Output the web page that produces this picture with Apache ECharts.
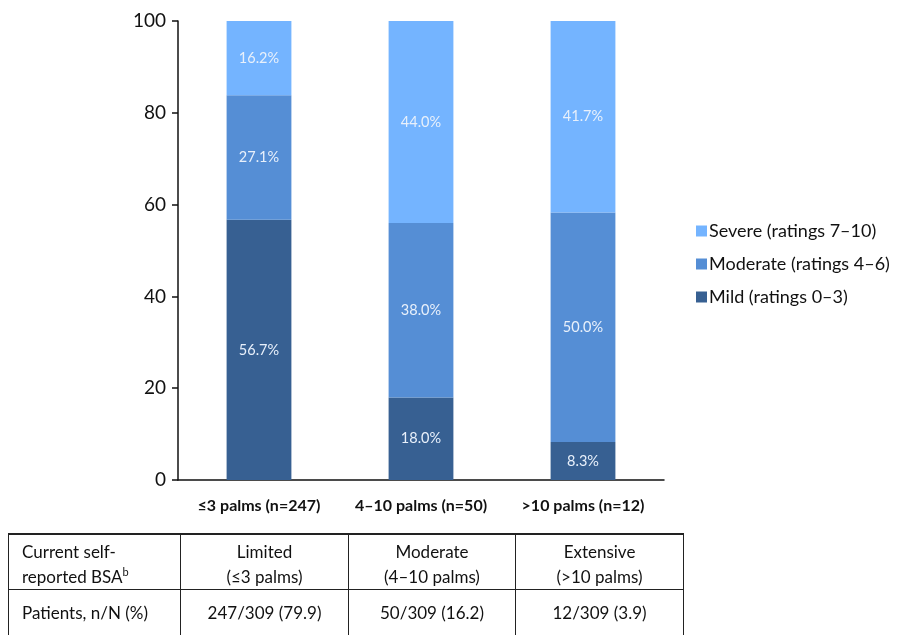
<!DOCTYPE html>
<html>
<head>
<meta charset="utf-8">
<script src="https://cdn.jsdelivr.net/npm/echarts@6/dist/echarts.min.js"></script>
<style>
  html, body { margin: 0; padding: 0; background: #fff; }
  #chart { position: absolute; left: 0; top: 0; width: 904px; height: 635px; }
  #tbl { position: absolute; left: 8px; top: 533px; width: 675px; border-collapse: collapse; table-layout: fixed;
         font-family: Lato, "Open Sans", sans-serif; font-size: 17px; color: #111; }
  #tbl td { border: 1.5px solid #222; text-align: center; vertical-align: top; padding: 0 2px; line-height: 25px; }
  #tbl tr:first-child td { border-top: 2.5px solid #222; height: 48px; padding-top: 4px; }
  #tbl tr:nth-child(2) td { height: 50px; padding-top: 11px; line-height: 24px; }
  #tbl td.first { text-align: left; padding-left: 13px; }
</style>
</head>
<body>
<div id="chart"></div>
<table id="tbl">
  <colgroup><col style="width:172px"><col style="width:168px"><col style="width:167px"><col style="width:168px"></colgroup>
  <tr>
    <td class="first">Current self-<br>reported BSA<sup style="font-size:11px;line-height:0">b</sup></td>
    <td>Limited<br>(≤3 palms)</td>
    <td>Moderate<br>(4–10 palms)</td>
    <td>Extensive<br>(&gt;10 palms)</td>
  </tr>
  <tr>
    <td class="first">Patients, n/N (%)</td>
    <td>247/309 (79.9)</td>
    <td>50/309 (16.2)</td>
    <td>12/309 (3.9)</td>
  </tr>
</table>
<script>
const categories = ['≤3 palms (n=247)', '4–10 palms (n=50)', '>10 palms (n=12)'];
const mild = [56.7, 18.0, 8.3];
const moderate = [27.1, 38.0, 50.0];
const severe = [16.2, 44.0, 41.7];
const seriesNames = ['Mild (ratings 0–3)', 'Moderate (ratings 4–6)', 'Severe (ratings 7–10)'];
const yTicks = [0, 20, 40, 60, 80, 100];

const FONT = 'Lato, "Open Sans", sans-serif';
const chart = echarts.init(document.getElementById('chart'));
const labelCfg = {
  show: true, position: 'inside', color: '#e8f0fb', fontSize: 14.5, fontFamily: FONT,
  formatter: p => p.value.toFixed(1) + '%'
};
function mk(name, data, color) {
  return { name, type: 'bar', stack: 'total', data, barWidth: '40%',
    itemStyle: { color }, label: labelCfg, emphasis: { disabled: true } };
}
chart.setOption({
  animation: false,
  textStyle: { fontFamily: FONT },
  grid: { left: 178, right: 240, top: 21, bottom: 155, containLabel: false },
  legend: {
    orient: 'vertical', left: 691, top: 217, itemWidth: 11, itemHeight: 11, itemGap: 15,
    icon: 'rect',
    data: [seriesNames[2], seriesNames[1], seriesNames[0]],
    textStyle: { fontSize: 18, color: '#111', fontFamily: FONT, padding: [0, 0, 0, -3] }
  },
  xAxis: {
    type: 'category', data: categories,
    axisLine: { lineStyle: { color: '#111', width: 1.5 } },
    axisTick: { show: false },
    axisLabel: { color: '#111', fontSize: 16, fontWeight: 'bold', margin: 18, fontFamily: FONT,
                 interval: 0, hideOverlap: false }
  },
  yAxis: {
    type: 'value', min: yTicks[0], max: yTicks[yTicks.length - 1], interval: 20,
    axisLine: { show: true, lineStyle: { color: '#111', width: 1.5 } },
    axisTick: { show: true, length: 6, lineStyle: { color: '#111', width: 1.5 } },
    splitLine: { show: false },
    axisLabel: { color: '#111', fontSize: 19, margin: 12, fontFamily: FONT }
  },
  series: [
    mk(seriesNames[0], mild, '#376092'),
    mk(seriesNames[1], moderate, '#558ED5'),
    mk(seriesNames[2], severe, '#74B4FF')
  ]
});
</script>
</body>
</html>
